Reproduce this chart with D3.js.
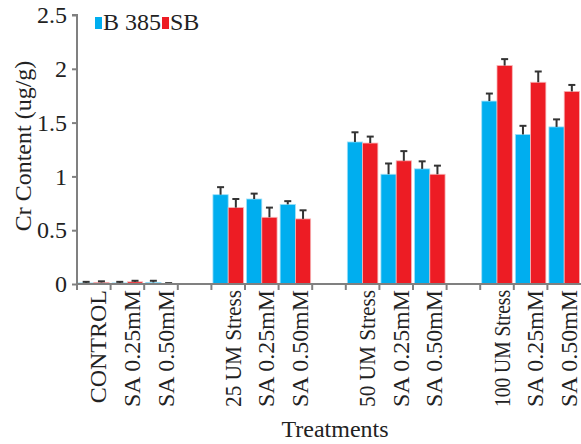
<!DOCTYPE html>
<html><head><meta charset="utf-8">
<script src="https://cdn.jsdelivr.net/npm/d3@7"></script>
<style>body{margin:0;background:#fff}svg{display:block}</style>
</head><body><svg id="c" width="581" height="444"></svg>
<script>
const categories = ["CONTROL","SA 0.25mM","SA 0.50mM","","25 UM Stress","SA 0.25mM","SA 0.50mM","","50 UM Stress","SA 0.25mM","SA 0.50mM","","100 UM Stress","SA 0.25mM","SA 0.50mM"];
const seriesNames = ["B 385","SB"];
const b385 = [0.01,0.01,0.015,null,0.83,0.79,0.74,null,1.32,1.02,1.07,null,1.70,1.39,1.46];
const b385Err = [0.01,0.01,0.015,null,0.07,0.05,0.03,null,0.09,0.10,0.07,null,0.07,0.08,0.07];
const sb = [0.015,0.02,0.003,null,0.71,0.62,0.605,null,1.31,1.145,1.02,null,2.03,1.875,1.79];
const sbErr = [0.01,0.01,0.005,null,0.08,0.09,0.08,null,0.06,0.09,0.08,null,0.06,0.10,0.06];
const yTicks = [0,0.5,1,1.5,2,2.5];
const colors = ["#00AEEF","#ED1C24"];

const svg = d3.select("#c");
const font = "'Liberation Serif','Times New Roman',serif";
const mLeft = 77, mRight = 581, mTop = 15, mBottom = 284;
const idx = categories.map((d,i)=>i);
const x = d3.scaleBand().domain(idx).range([mLeft,mRight]).paddingInner(0).paddingOuter(0);
const inner = d3.scaleBand().domain([0,1]).range([0,x.bandwidth()]).paddingOuter(0.1).paddingInner(0);
const y = d3.scaleLinear().domain([0,2.5]).range([mBottom,mTop]);

const series = [b385, sb], errs = [b385Err, sbErr];
series.forEach((vals,s)=>{
  const g = svg.append("g");
  vals.forEach((v,i)=>{
    if(v==null) return;
    const bx = x(i)+inner(s), bw = inner.bandwidth();
    g.append("rect").attr("x",bx).attr("y",y(v)).attr("width",bw).attr("height",y(0)-y(v))
      .attr("fill",colors[s]).attr("stroke", s? "#f7b5b7":"#9fe0f8").attr("stroke-width",0.8);
    const e = errs[s][i], cx = bx+bw/2;
    g.append("line").attr("x1",cx).attr("x2",cx).attr("y1",y(v)).attr("y2",y(v+e)).attr("stroke","#333").attr("stroke-width",2);
    g.append("line").attr("x1",cx-3.5).attr("x2",cx+3.5).attr("y1",y(v+e)).attr("y2",y(v+e)).attr("stroke","#333").attr("stroke-width",2);
  });
});

// Y axis
const ya = svg.append("g").attr("transform",`translate(${mLeft},0)`)
  .call(d3.axisLeft(y).tickValues(yTicks).tickSize(5).tickPadding(5).tickFormat(d=>String(d)));
ya.select(".domain").attr("stroke","#808080").attr("stroke-width",2).attr("d",`M-5,${mTop}H0V${mBottom+1}`);
ya.selectAll(".tick line").attr("stroke","#808080").attr("stroke-width",2);
ya.selectAll(".tick text").attr("font-family",font).attr("font-size",24).attr("fill","#222");

// X axis
const xa = svg.append("g").attr("transform",`translate(0,${mBottom})`);
xa.append("line").attr("x1",mLeft).attr("x2",mRight).attr("y1",0).attr("y2",0).attr("stroke","#808080").attr("stroke-width",2);
idx.forEach(i=>{
  xa.append("line").attr("x1",x(i)).attr("x2",x(i)).attr("y1",0).attr("y2",6).attr("stroke","#808080").attr("stroke-width",2);
});
xa.selectAll("text.lab").data(idx.filter(i=>categories[i]!=="")).enter().append("text")
  .attr("class","lab")
  .attr("transform",i=>`translate(${x(i)+x.bandwidth()/2+12.5},6) rotate(-90)`)
  .attr("text-anchor","end").attr("font-family",font).attr("font-size",24).attr("fill","#222")
  .text(i=>categories[i])
  .each(function(){
    const L = this.getComputedTextLength();
    if (L > 117) d3.select(this).attr("textLength",117).attr("lengthAdjust","spacingAndGlyphs");
  });

// Axis titles
svg.append("text").attr("x",335).attr("y",437).attr("text-anchor","middle")
  .attr("font-family",font).attr("font-size",24).attr("fill","#222").text("Treatments");
svg.append("text").attr("transform","translate(31,146) rotate(-90)").attr("text-anchor","middle")
  .attr("font-family",font).attr("font-size",24).attr("fill","#222").text("Cr Content (ug/g)");

// Legend
const lg = svg.append("g");
let lx = 95;
seriesNames.forEach((n,s)=>{
  lg.append("rect").attr("x",lx).attr("y",17).attr("width",7).attr("height",12).attr("fill",colors[s]);
  const t = lg.append("text").attr("x",lx+8).attr("y",30).attr("font-family",font).attr("font-size",24).attr("fill","#222").text(n);
  lx += 8 + t.node().getComputedTextLength() + 1;
});
</script></body></html>
